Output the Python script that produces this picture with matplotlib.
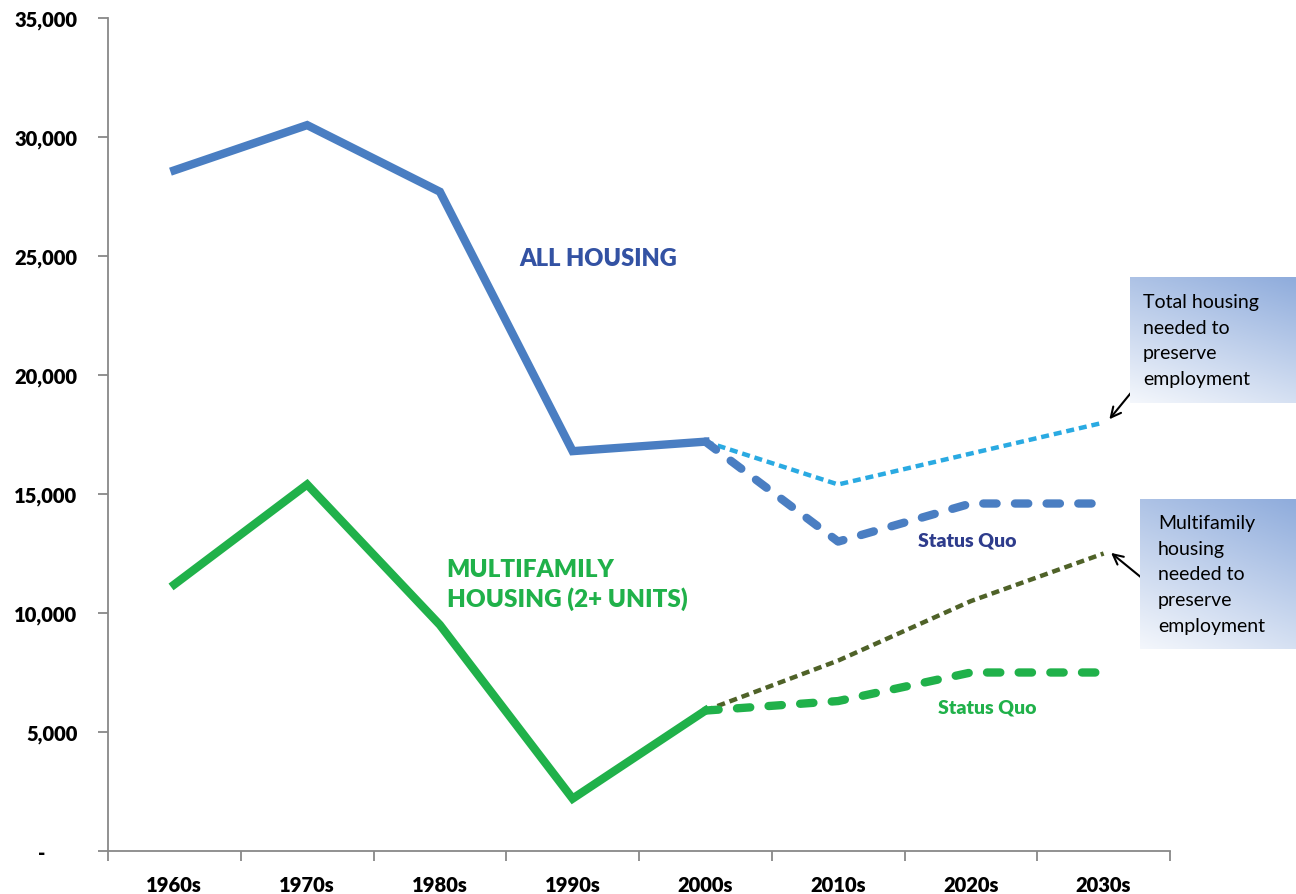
import matplotlib
matplotlib.use("Agg")
import matplotlib.pyplot as plt
import numpy as np

decades = ["1960s", "1970s", "1980s", "1990s", "2000s", "2010s", "2020s", "2030s"]
all_housing = [28600, 30500, 27700, 16800, 17200]
all_needed = [17200, 15400, 16700, 18000]
all_status_quo = [17200, 13000, 14600, 14600]
multifamily = [11200, 15400, 9500, 2200, 5900]
mf_needed = [5900, 8000, 10500, 12500]
mf_status_quo = [5900, 6300, 7500, 7500]
yticks = [0, 5000, 10000, 15000, 20000, 25000, 30000, 35000]
ytick_labels = ["-" + "\u00a0" * 7, "5,000", "10,000", "15,000", "20,000", "25,000", "30,000", "35,000"]

plt.rcParams['font.family'] = ['Lato', 'DejaVu Sans']

fig = plt.figure(figsize=(12.96, 8.95), dpi=100)
ax = fig.add_axes([108/1296, 1-852/895, (1170-108)/1296, (852-19)/895])

x_hist = np.arange(5)
x_proj = np.arange(4, 8)

blue = "#4A7EC2"
ax.plot(x_hist, all_housing, color=blue, lw=6.0, solid_joinstyle='miter')
ax.plot(x_proj, all_needed, color="#2AAAE2", lw=3.2, dashes=(1.8, 1.1))
ax.plot(x_proj, all_status_quo, color=blue, lw=6.0, dashes=(1.6, 2.2), dash_capstyle='round')

green = "#20B14A"
ax.plot(x_hist, multifamily, color=green, lw=6.0, solid_joinstyle='miter')
ax.plot(x_proj, mf_needed, color="#4F6228", lw=3.2, dashes=(1.8, 1.1))
ax.plot(x_proj, mf_status_quo, color=green, lw=6.0, dashes=(1.6, 2.2), dash_capstyle='round')

ax.set_xlim(-0.5, 7.5)
ax.set_ylim(0, 35000)
ax.set_yticks(yticks)
ax.set_yticklabels(ytick_labels, fontsize=14.5, fontweight='heavy')
ax.set_xticks(range(8))
ax.set_xticklabels(decades, fontsize=14.5, fontweight='heavy')
ax.set_xticks(np.arange(-0.5, 8.0, 1.0), minor=True)
ax.tick_params(axis='x', which='major', length=0, pad=17)
ax.tick_params(axis='x', which='minor', length=7, color="#888888", width=1.3, direction='out')
ax.tick_params(axis='y', length=7, color="#888888", width=1.3, pad=15)
ax.spines['top'].set_visible(False)
ax.spines['right'].set_visible(False)
ax.spines['left'].set_color("#888888")
ax.spines['bottom'].set_color("#888888")
ax.spines['left'].set_linewidth(1.3)
ax.spines['bottom'].set_linewidth(1.3)

ax.text(3.19, 24930, "ALL HOUSING", color="#3352A3", fontsize=17, fontweight='heavy', ha='center', va='center')
ax.text(2.05, 11220, "MULTIFAMILY\nHOUSING (2+ UNITS)", color=green, fontsize=17.5, fontweight='heavy',
        ha='left', va='center', linespacing=1.35)
ax.text(5.97, 13050, "Status Quo", color="#2E3C8C", fontsize=14, fontweight='heavy', ha='center', va='center')
ax.text(6.12, 6050, "Status Quo", color=green, fontsize=14, fontweight='heavy', ha='center', va='center')

# gradient boxes
def grad_box(x0, y0, w, h, text_x, lines):
    bax = fig.add_axes([x0/1296, 1-(y0+h)/895, w/1296, h/895])
    gy, gx = np.mgrid[0:1:100j, 0:1:100j]  # gy=0 -> top row
    top = np.array([0x8F, 0xAC, 0xDC]) / 255
    bot = np.array([0xF4, 0xF7, 0xFC]) / 255
    t = np.clip(0.7*(1-gy) + 0.3*gx, 0, 1)
    img = bot[None, None, :] + (top - bot)[None, None, :] * t[..., None]
    bax.imshow(img, aspect='auto', extent=[0, 1, 0, 1], origin='upper')
    bax.set_axis_off()
    bax.text((text_x - x0)/w, 0.5, "\n".join(lines), fontsize=14, ha='left', va='center',
             color="black", linespacing=1.62, transform=bax.transAxes)
    return bax

grad_box(1130, 278, 166, 126, 1143, ["Total housing", "needed to", "preserve", "employment"])
grad_box(1140, 500, 156, 150, 1158, ["Multifamily", "housing", "needed to", "preserve", "employment"])

ax.annotate("", xy=(7.03, 18050), xytext=(7.22, 19350),
            arrowprops=dict(arrowstyle='->', color='black', lw=1.5, mutation_scale=18), annotation_clip=False)
ax.annotate("", xy=(7.04, 12600), xytext=(7.33, 11280),
            arrowprops=dict(arrowstyle='->', color='black', lw=1.5, mutation_scale=18), annotation_clip=False)

fig.savefig("out.png", dpi=100)
